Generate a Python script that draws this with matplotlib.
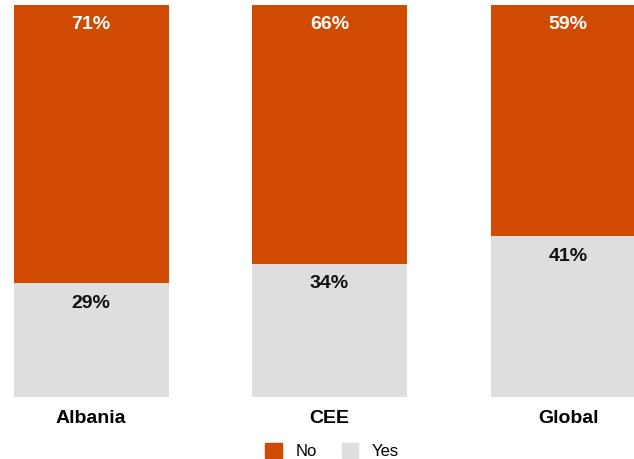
import matplotlib.pyplot as plt
from matplotlib.patches import Patch

plt.rcParams['font.family'] = ['Liberation Sans', 'DejaVu Sans']

regions = ['Albania', 'CEE', 'Global']
no_share = [71, 66, 59]
yes_share = [29, 34, 41]

orange = '#D04A02'
grey = '#DEDEDE'

fig = plt.figure(figsize=(6.34, 4.59), dpi=100)
ax = fig.add_axes([0, 62 / 459, 1, 392 / 459])

step = 238.5
x = range(len(regions))
width = 155 / step
ax.bar(x, yes_share, width=width, color=grey, label='Yes')
ax.bar(x, no_share, width=width, bottom=yes_share, color=orange, label='No')

for i in x:
    ax.text(i, 100 - 4.9, f'{no_share[i]}%', ha='center', va='center',
            color='white', fontsize=14, fontweight='bold')
    ax.text(i, yes_share[i] - 5.1, f'{yes_share[i]}%', ha='center', va='center',
            color='#111111', fontsize=14, fontweight='bold')
    ax.text(i, -5.6, regions[i], ha='center', va='center',
            color='black', fontsize=14, fontweight='bold')

ax.set_xlim(-91 / step, (634 - 91) / step)
ax.set_ylim(0, 100)
ax.axis('off')

handles = [Patch(color=orange, label='No'), Patch(color=grey, label='Yes')]
fig.legend(handles=handles, loc='center', bbox_to_anchor=(332 / 634, 1 - 451 / 459),
           ncol=2, frameon=False, fontsize=12, handlelength=1.0, handleheight=1.0,
           columnspacing=1.5, handletextpad=0.8)

fig.savefig('out.png', dpi=100)
